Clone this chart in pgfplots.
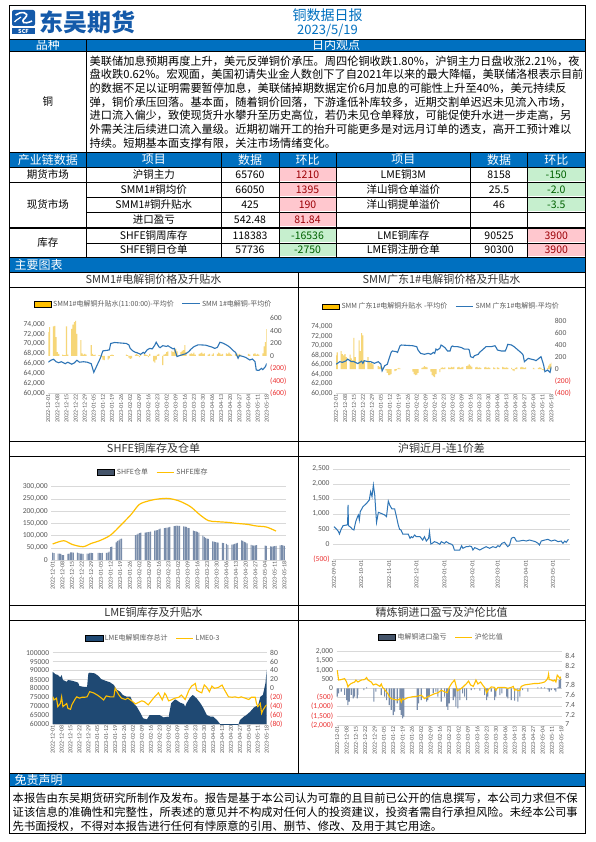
\documentclass[border=0pt]{standalone}
\usepackage{fontspec}
\usepackage{pgfplots}
\pgfplotsset{compat=1.18}
\setmainfont{Noto Sans CJK SC}
\newfontfamily\calfont{Carlito}
\definecolor{hdrblue}{RGB}{0,112,192}
\definecolor{logoblue}{RGB}{20,90,170}
\definecolor{pinkbg}{RGB}{255,199,206}
\definecolor{pinktx}{RGB}{156,0,6}
\definecolor{greenbg}{RGB}{198,239,206}
\definecolor{greentx}{RGB}{0,97,0}
\definecolor{lineblue}{RGB}{46,117,182}
\definecolor{gold}{RGB}{255,192,0}
\definecolor{paleyel}{RGB}{246,214,120}
\definecolor{labgray}{RGB}{89,89,89}
\definecolor{gridgray}{RGB}{217,217,217}
\definecolor{negred}{RGB}{235,50,50}
\definecolor{navy}{RGB}{31,73,115}
\definecolor{slate}{RGB}{120,140,170}
\definecolor{slatedark}{RGB}{68,84,106}
\newcommand\tkf{\calfont\fontsize{7.6}{8}\selectfont}
\newcommand\dkf{\calfont\fontsize{6}{6}\selectfont}
\newcommand\lgf{\fontsize{7}{8}\selectfont\color{labgray}}
\newcommand\bodyf{\fontsize{11.2}{13}\selectfont}
\newcommand\cellf{\fontsize{10.5}{12}\selectfont}
\newcommand\hdrf{\fontsize{12}{13}\selectfont}
\newcommand\ttlf{\fontsize{11}{12}\selectfont}
\newcommand\negl[1]{\textcolor{negred}{#1}}
\pgfplotsset{
  base/.style={scale only axis, enlargelimits=false, scaled ticks=false, tick style={draw=none}, major tick length=0pt,
    tick label style={font=\tkf, text=labgray}, y axis line style={draw=none},
    x axis line style={draw=gridgray}, grid style={draw=gridgray, line width=0.5pt}},
  leftax/.style={axis y line*=left, axis x line*=bottom},
  rightax/.style={axis y line*=right, axis x line=none, xtick=\empty},
  datex/.style={xtick={0,7,...,168}, xticklabels={2022-12-01,2022-12-08,2022-12-15,2022-12-22,2022-12-29,2023-01-05,2023-01-12,2023-01-19,2023-01-26,2023-02-02,2023-02-09,2023-02-16,2023-02-23,2023-03-02,2023-03-09,2023-03-16,2023-03-23,2023-03-30,2023-04-06,2023-04-13,2023-04-20,2023-04-27,2023-05-04,2023-05-11,2023-05-18},
    x tick label style={rotate=90, anchor=east, font=\dkf, inner sep=1pt}},
  leg/.style={legend style={draw=none, fill=none, at={(#1,1)}, anchor=center, yshift=14.4pt,
    legend columns=2, font=\lgf, inner sep=0pt, /tikz/every even column/.append style={column sep=6pt}},
    legend cell align=left},
}
\begin{document}
\begin{tikzpicture}
\useasboundingbox (0,0) rectangle (595pt,-842pt);
\fill[white] (0,0) rectangle (595pt,-842pt);
\begin{scope}[x=1pt,y=-1pt]
% blue bars
\fill[hdrblue] (9,39) rectangle (585,51);
\fill[hdrblue] (9,152) rectangle (585,167);
\fill[hdrblue] (9,258) rectangle (585,272);
\fill[hdrblue] (9,773) rectangle (585,786);
% coloured cells
\fill[pinkbg] (279.5,167.6) rectangle (335.5,181.4);
\fill[pinkbg] (279.5,182.6) rectangle (335.5,196.4);
\fill[pinkbg] (279.5,197.6) rectangle (335.5,211.4);
\fill[pinkbg] (279.5,212.6) rectangle (335.5,226.4);
\fill[greenbg] (528,167.6) rectangle (584.5,181.4);
\fill[greenbg] (528,182.6) rectangle (584.5,196.4);
\fill[greenbg] (528,197.6) rectangle (584.5,211.4);
\fill[greenbg] (279.5,229.1) rectangle (335.5,242.4);
\fill[greenbg] (279.5,243.6) rectangle (335.5,256.4);
\fill[pinkbg] (528,229.1) rectangle (584.5,242.4);
\fill[pinkbg] (528,243.6) rectangle (584.5,256.4);
% logo
\fill[logoblue, rounded corners=2pt] (12,10) rectangle (35,26);
\draw[white, line width=1.6pt] (15.5,15) .. controls (20,11) and (31,12) .. (25,18) .. controls (20,22) and (24,25) .. (32,21);
\draw[white, line width=1.2pt] (14.5,22) .. controls (17,19) and (19,19) .. (21,17);
\fill[logoblue] (12,28) rectangle (35,34);
\node[font=\bfseries\fontsize{5.5}{5.5}\selectfont, text=white, inner sep=0] at (23.5,31) {SCF};
\node[anchor=west, inner sep=0, font=\bfseries\fontsize{24}{24}\selectfont, text=logoblue] at (39,22) {东吴期货};
\node[font=\fontsize{14}{14}\selectfont, text=hdrblue] at (327.5,15) {铜数据日报};
\node[font=\fontsize{13}{13}\selectfont, text=hdrblue] at (327.5,30.7) {2023/5/19};
% header row texts
\node[font=\hdrf, text=white] at (47.75,45) {品种};
\node[font=\hdrf, text=white] at (336,45) {日内观点};
\node[font=\cellf] at (47.75,102) {铜};
\node[anchor=west, inner sep=0, font=\bodyf] at (89.5,61) {美联储加息预期再度上升，美元反弹铜价承压。周四伦铜收跌1.80\%，沪铜主力日盘收涨2.21\%，夜};
\node[anchor=west, inner sep=0, font=\bodyf] at (89.5,74.7) {盘收跌0.62\%。宏观面，美国初请失业金人数创下了自2021年以来的最大降幅，美联储洛根表示目前};
\node[anchor=west, inner sep=0, font=\bodyf] at (89.5,88.4) {的数据不足以证明需要暂停加息，美联储掉期数据定价6月加息的可能性上升至40\%，美元持续反};
\node[anchor=west, inner sep=0, font=\bodyf] at (89.5,102.1) {弹，铜价承压回落。基本面，随着铜价回落，下游逢低补库较多，近期交割单迟迟未见流入市场，};
\node[anchor=west, inner sep=0, font=\bodyf] at (89.5,115.8) {进口流入偏少，致使现货升水攀升至历史高位，若仍未见仓单释放，可能促使升水进一步走高，另};
\node[anchor=west, inner sep=0, font=\bodyf] at (89.5,129.5) {外需关注后续进口流入量级。近期初端开工的抬升可能更多是对远月订单的透支，高开工预计难以};
\node[anchor=west, inner sep=0, font=\bodyf] at (89.5,143.2) {持续。短期基本面支撑有限，关注市场情绪变化。};
% table header
\foreach \x/\t in {47.75/产业链数据,153.75/项目,250/数据,307.5/环比,403.3/项目,499/数据,556.25/环比}
  \node[font=\hdrf, text=white] at (\x,159.5) {\t};
% table rows
\node[font=\cellf] at (47.75,174.5) {期货市场};
\node[font=\cellf] at (47.75,204.5) {现货市场};
\node[font=\cellf] at (47.75,242.5) {库存};
\node[font=\cellf] at (153.75,174.5) {沪铜主力};
\node[font=\cellf] at (250,174.5) {65760};
\node[font=\cellf, text=pinktx] at (307.5,174.5) {1210};
\node[font=\cellf] at (403.3,174.5) {LME铜3M};
\node[font=\cellf] at (499,174.5) {8158};
\node[font=\cellf, text=greentx] at (556.25,174.5) {-150};
\node[font=\cellf] at (153.75,189.5) {SMM1\#铜均价};
\node[font=\cellf] at (250,189.5) {66050};
\node[font=\cellf, text=pinktx] at (307.5,189.5) {1395};
\node[font=\cellf] at (403.3,189.5) {洋山铜仓单溢价};
\node[font=\cellf] at (499,189.5) {25.5};
\node[font=\cellf, text=greentx] at (556.25,189.5) {-2.0};
\node[font=\cellf] at (153.75,204.5) {SMM1\#铜升贴水};
\node[font=\cellf] at (250,204.5) {425};
\node[font=\cellf, text=pinktx] at (307.5,204.5) {190};
\node[font=\cellf] at (403.3,204.5) {洋山铜提单溢价};
\node[font=\cellf] at (499,204.5) {46};
\node[font=\cellf, text=greentx] at (556.25,204.5) {-3.5};
\node[font=\cellf] at (153.75,219.5) {进口盈亏};
\node[font=\cellf] at (250,219.5) {542.48};
\node[font=\cellf, text=pinktx] at (307.5,219.5) {81.84};
\node[font=\cellf] at (153.75,235.5) {SHFE铜周库存};
\node[font=\cellf] at (250,235.5) {118383};
\node[font=\cellf, text=greentx] at (307.5,235.5) {-16536};
\node[font=\cellf] at (403.3,235.5) {LME铜库存};
\node[font=\cellf] at (499,235.5) {90525};
\node[font=\cellf, text=pinktx] at (556.25,235.5) {3900};
\node[font=\cellf] at (153.75,250) {SHFE铜日仓单};
\node[font=\cellf] at (250,250) {57736};
\node[font=\cellf, text=greentx] at (307.5,250) {-2750};
\node[font=\cellf] at (403.3,250) {LME铜注册仓单};
\node[font=\cellf] at (499,250) {90300};
\node[font=\cellf, text=pinktx] at (556.25,250) {3900};
% section labels
\node[anchor=west, font=\hdrf, text=white] at (11,265) {主要图表};
\node[anchor=west, font=\hdrf, text=white] at (11,779.5) {免责声明};
% chart titles
\node[font=\ttlf, text=black!80] at (153.5,279.5) {SMM1\#电解铜价格及升贴水};
\node[font=\ttlf, text=black!80] at (441.5,279.5) {SMM广东1\#电解铜价格及升贴水};
\node[font=\ttlf, text=black!80] at (153.5,448.5) {SHFE铜库存及仓单};
\node[font=\ttlf, text=black!80] at (441.5,448.5) {沪铜近月-连1价差};
\node[font=\ttlf, text=black!80] at (153.5,612.5) {LME铜库存及升贴水};
\node[font=\ttlf, text=black!80] at (441.5,612.5) {精炼铜进口盈亏及沪伦比值};
% disclaimer
\node[anchor=west, inner sep=0, font=\fontsize{11.3}{13}\selectfont] at (12.5,798) {本报告由东吴期货研究所制作及发布。报告是基于本公司认为可靠的且目前已公开的信息撰写，本公司力求但不保};
\node[anchor=west, inner sep=0, font=\fontsize{11.3}{13}\selectfont] at (12.5,812) {证该信息的准确性和完整性，所表述的意见并不构成对任何人的投资建议，投资者需自行承担风险。未经本公司事};
\node[anchor=west, inner sep=0, font=\fontsize{11.3}{13}\selectfont] at (12.5,826) {先书面授权，不得对本报告进行任何有悖原意的引用、删节、修改、及用于其它用途。};
% lines
\begin{scope}[line width=0.6pt]
\draw (9,39)--(585,39) (9,51)--(585,51);
\draw (86.5,39)--(86.5,257.5);
\draw (9,152)--(585,152) (9,167)--(585,167) (9,182)--(585,182);
\draw (86.5,197)--(585,197) (86.5,212)--(585,212);
\draw (9,227)--(585,227) (9,228.5)--(585,228.5) (86.5,243)--(585,243) (9,257.5)--(585,257.5);
\foreach \x in {221,279,336,470.6,527.5} \draw (\x,152)--(\x,257.5);
\draw (9,272)--(585,272) (9,287)--(585,287);
\draw (298,272)--(298,773);
\draw (9,441)--(585,441) (9,456)--(585,456);
\draw (9,605)--(585,605) (9,620)--(585,620);
\draw (9,773)--(585,773) (9,786)--(585,786);
\end{scope}
\draw[line width=1pt] (9,6) rectangle (585,833);
\end{scope}

% ===== Chart 1 =====
\begin{axis}[base, rightax, at={(48.3pt,-393.3pt)}, anchor=south west, width=218.4pt, height=75pt,
  xmin=0, xmax=168, ymin=-600, ymax=600, ytick={-600,-400,-200,0,200,400,600},
  yticklabels={\negl{(600)},\negl{(400)},\negl{(200)},0,200,400,600}]
\addplot[ybar, bar width=1.1pt, fill=paleyel, draw=none] coordinates {(0,380)(1,460)(4,470)(5,480)(6,300)(7,60)(8,30)(11,20)(12,10)(13,10)(14,470)(15,20)(18,430)(19,500)(20,540)(21,560)(22,350)(25,250)(26,40)(27,20)(28,30)(29,20)(33,170)(34,30)(35,10)(36,20)(39,10)(40,5)(41,-20)(42,-60)(43,-70)(46,-60)(47,-40)(48,10)(49,20)(50,10)(60,20)(61,10)(62,-30)(63,-50)(64,-40)(67,20)(68,30)(69,10)(70,-20)(71,20)(74,30)(75,20)(76,10)(77,-20)(78,30)(81,-90)(82,-110)(83,-60)(84,20)(85,30)(88,-150)(89,20)(90,30)(91,60)(92,70)(95,80)(96,60)(97,90)(98,110)(99,70)(102,60)(103,80)(104,90)(105,170)(106,60)(109,30)(110,40)(111,30)(112,50)(113,20)(116,30)(117,40)(118,50)(119,30)(120,40)(123,20)(124,30)(126,20)(127,40)(130,30)(131,50)(132,40)(133,20)(134,30)(137,40)(138,30)(139,50)(140,30)(141,20)(144,30)(145,40)(146,20)(147,30)(148,20)(154,30)(155,20)(158,30)(159,40)(160,20)(161,30)(162,20)(165,40)(166,150)(167,220)(168,425)};
\end{axis}
\begin{axis}[base, leftax, datex, leg=0.482, at={(48.3pt,-393.3pt)}, anchor=south west, width=218.4pt, height=75pt,
  xmin=0, xmax=168, ymin=60000, ymax=75200, ytick={60000,62000,...,74000},
  yticklabels={{60,000},{62,000},{64,000},{66,000},{68,000},{70,000},{72,000},{74,000}}]
\addlegendimage{area legend, fill=gold, draw=none}
\addlegendentry{SMM1\#电解铜升贴水(11:00:00)-平均价}
\addplot[lineblue, line width=1.1pt] coordinates {(0,66300)(2,66700)(4,66900)(6,66400)(8,66200)(10,66400)(13,66000)(15,66300)(18,65900)(20,66150)(22,66700)(24,66300)(27,66400)(30,66300)(33,66000)(35,64250)(37,65400)(40,67100)(42,68600)(45,68700)(47,68800)(48,70100)(51,70300)(60,70100)(62,69800)(63,69100)(65,68600)(67,68300)(68,68250)(71,67900)(73,68300)(74,68100)(76,68800)(78,69100)(80,69000)(82,69800)(83,70350)(85,69450)(86,69250)(88,69650)(91,69500)(92,69650)(94,69300)(96,69000)(97,69100)(99,67450)(101,67650)(103,67800)(106,68050)(108,68450)(110,69000)(112,69450)(115,69800)(118,69800)(121,69750)(123,69600)(126,69350)(128,69100)(130,69300)(132,70350)(134,70200)(136,69950)(138,69650)(140,69250)(142,68700)(144,68300)(146,67100)(147,67650)(150,67450)(152,67250)(155,66750)(157,66950)(159,66400)(160,64700)(162,64650)(164,65050)(165,64800)(167,65400)(168,66050)};
\addlegendentry{SMM 1\#电解铜-平均价}
\end{axis}

% ===== Chart 2 =====
\begin{axis}[base, rightax, at={(336pt,-393.3pt)}, anchor=south west, width=215.3pt, height=72.3pt,
  xmin=0, xmax=168, ymin=-400, ymax=800, ytick={-400,-200,0,200,400,600,800},
  yticklabels={\negl{(400)},\negl{(200)},0,200,400,600,800}]
\addplot[ybar, bar width=1.1pt, fill=paleyel, draw=none] coordinates {(0,230)(1,280)(4,300)(5,250)(6,230)(7,250)(8,200)(11,240)(12,180)(13,150)(14,520)(15,200)(18,480)(19,300)(20,600)(21,560)(22,150)(25,200)(26,120)(27,100)(28,120)(29,80)(33,50)(34,40)(35,60)(36,30)(39,-20)(40,-60)(41,-100)(42,-100)(43,-80)(46,-30)(47,-20)(48,10)(49,20)(50,10)(60,-40)(61,-80)(62,-100)(63,-90)(64,-60)(67,20)(68,30)(69,50)(70,40)(71,30)(74,-40)(75,-100)(76,-120)(77,-130)(78,-80)(81,-50)(82,20)(83,30)(84,20)(85,30)(88,30)(89,20)(90,40)(91,30)(92,40)(95,30)(96,40)(97,20)(98,30)(99,40)(102,50)(103,60)(104,80)(105,60)(106,40)(109,30)(110,40)(111,20)(112,30)(113,20)(116,30)(117,40)(118,20)(119,30)(120,20)(123,30)(124,20)(126,30)(127,20)(130,40)(131,30)(132,20)(133,30)(134,20)(137,20)(138,-20)(139,-30)(140,20)(141,30)(144,30)(145,40)(146,30)(147,20)(148,30)(154,20)(155,10)(158,20)(159,30)(160,20)(161,-10)(162,-20)(165,20)(166,60)(167,90)(168,110)};
\end{axis}
\begin{axis}[base, leftax, datex, leg=0.49, at={(336pt,-393.3pt)}, anchor=south west, width=215.3pt, height=72.3pt,
  xmin=0, xmax=168, ymin=60000, ymax=75200, ytick={60000,62000,...,74000},
  yticklabels={{60,000},{62,000},{64,000},{66,000},{68,000},{70,000},{72,000},{74,000}}]
\addlegendimage{area legend, fill=gold, draw=none}
\addlegendentry{SMM 广东1\#电解铜升贴水 -平均价}
\addplot[lineblue, line width=1.1pt] coordinates {(0,66100)(3,66650)(5,66500)(8,66850)(9,67200)(12,66650)(14,66650)(17,66250)(20,66750)(21,66300)(22,66850)(25,66650)(27,66650)(30,66300)(33,66650)(35,66150)(36,64700)(38,65800)(40,66100)(43,68600)(44,68900)(47,68750)(48,68600)(50,70000)(51,70150)(60,70000)(63,69800)(64,69100)(66,68400)(69,68200)(72,68400)(74,68200)(76,68600)(77,68400)(78,69300)(79,69100)(81,69450)(82,70150)(83,70000)(85,69600)(87,68900)(89,68900)(90,69800)(91,69950)(92,69800)(95,69800)(98,69600)(100,69300)(103,69300)(104,69100)(105,67700)(107,67500)(108,67900)(111,68200)(112,68600)(115,69300)(117,69800)(121,69800)(124,70000)(125,69600)(126,69100)(129,68900)(132,68900)(133,69450)(134,70300)(137,70150)(139,69800)(142,69100)(145,68400)(146,68050)(147,66650)(150,67350)(152,67200)(155,67000)(156,66850)(159,67500)(160,67700)(162,65950)(163,64550)(164,64700)(165,64900)(167,64400)(168,65600)};
\addlegendentry{SMM 广东1\#电解铜-平均价}
\end{axis}

% ===== Chart 3 =====
\begin{axis}[base, leftax, datex, leg=0.436, ymajorgrids, at={(51.3pt,-560pt)}, anchor=south west, width=234.4pt, height=73.3pt,
  xmin=-1, xmax=169, ymin=0, ymax=300000, ytick={0,50000,...,300000},
  yticklabels={0,{50,000},{100,000},{150,000},{200,000},{250,000},{300,000}}]
\addlegendimage{area legend, fill=slatedark, draw=none}
\addlegendentry{SHFE仓单}
\addplot[ybar, bar width=1.0pt, fill=slate, draw=none, forget plot] coordinates {(0,30000)(1,28000)(4,26000)(5,26000)(6,25000)(7,20000)(8,20000)(11,25000)(12,26000)(13,31000)(14,31000)(15,30000)(18,30000)(19,28000)(20,26000)(21,26000)(22,25000)(25,26000)(26,26000)(27,29000)(28,29000)(29,28000)(33,29000)(34,29000)(35,28000)(36,29000)(39,29000)(40,30000)(41,34000)(42,53000)(43,55000)(46,72000)(47,78000)(48,80000)(49,86000)(50,88000)(60,102000)(61,104000)(62,108000)(63,110000)(64,112000)(67,112000)(68,113000)(69,114000)(70,115000)(71,116000)(74,120000)(75,121000)(76,122000)(77,125000)(78,128000)(81,130000)(82,132000)(83,133000)(84,134000)(85,136000)(88,139000)(89,140000)(90,141000)(91,140000)(92,140000)(95,138000)(96,137000)(97,136000)(98,132000)(99,130000)(102,120000)(103,118000)(104,117000)(105,115000)(106,112000)(109,100000)(110,95000)(111,91000)(112,88000)(113,86000)(116,76000)(117,75000)(118,73000)(119,72000)(120,71000)(123,70000)(124,69000)(126,66000)(127,62000)(130,63000)(131,64000)(132,66000)(133,68000)(134,70000)(137,80000)(138,78000)(139,74000)(140,72000)(141,68000)(144,62000)(145,60000)(146,59000)(147,60000)(148,61000)(154,59000)(155,58000)(158,56000)(159,55000)(160,56000)(161,57000)(162,58000)(165,60000)(166,61000)(167,60000)(168,57736)};
\addplot[gold, line width=1.2pt, smooth, tension=0.5] coordinates {(0,65500)(8,79000)(14,64000)(22,54500)(28,68000)(34,79000)(42,102000)(50,146000)(57,187000)(63,228000)(71,244000)(77,250000)(84,252000)(92,241000)(100,218000)(107,184000)(113,161000)(119,157000)(127,154000)(133,150000)(141,146000)(148,139000)(155,135000)(162,118383)};
\addlegendentry{SHFE库存}
\end{axis}

% ===== Chart 4 =====
\begin{axis}[base, leftax, ymajorgrids, at={(333.1pt,-559pt)}, anchor=south west, width=237.1pt, height=90pt,
  xmin=-1, xmax=261, ymin=-500, ymax=2500, ytick={-500,0,...,2500},
  yticklabels={\negl{(500)},0,500,{1,000},{1,500},{2,000},{2,500}},
  xtick={0,30,61,91,122,153,181,212,242},
  xticklabels={2022-09-01,2022-10-01,2022-11-01,2022-12-01,2023-01-01,2023-02-01,2023-03-01,2023-04-01,2023-05-01},
  x tick label style={rotate=90, anchor=east, font=\dkf, inner sep=1pt}]
\addplot[lineblue, line width=1pt] coordinates {(0,578)(3,489)(5,411)(6,333)(8,500)(10,611)(14,633)(15,655)(15.5,1300)(16,611)(19,544)(20,500)(22,467)(24,744)(26,911)(27,967)(28,800)(29,1078)(32,1244)(36,1356)(39,1467)(40.5,1744)(42,1578)(43.5,1967)(45,1633)(47,722)(49,1055)(52,1022)(56,967)(58,911)(60,1433)(61.5,1300)(64,1167)(67,1167)(69,911)(71,633)(72.5,489)(74,467)(76,333)(80,333)(82,333)(84,189)(85.5,244)(87,211)(89,300)(91,244)(95,244)(96.5,189)(98,133)(100,244)(102,100)(104.5,189)(105.5,411)(107,0)(108.5,22)(111,78)(114,44)(117,-11)(118.5,78)(122,22)(124,78)(127,22)(130,-11)(131.5,-56)(133,-200)(136,-200)(139,-200)(141,-56)(142.5,-144)(146,-89)(148,-89)(150,-67)(152,-89)(153.5,-200)(155.5,-122)(159,-167)(161,-200)(164.5,-144)(168,-89)(172,-144)(175.5,-89)(179,-122)(181,-56)(183,-89)(185.5,22)(188.5,56)(190.5,-33)(192,-89)(194,-33)(196,189)(198,222)(199.5,211)(201.5,100)(205,100)(209,122)(212.5,100)(216,133)(220,100)(222.5,78)(225.5,22)(227,-33)(229,100)(233,133)(236.5,156)(240,100)(244,133)(247.5,78)(251,100)(253,22)(255,100)(256.5,56)(259,156)};
\end{axis}

% ===== Chart 5 =====
\begin{axis}[base, leftax, datex, ymajorgrids, at={(52.7pt,-724pt)}, anchor=south west, width=214pt, height=71.3pt,
  xmin=0, xmax=168, ymin=60000, ymax=100000, ytick={60000,65000,...,100000},
  yticklabels={60000,65000,70000,75000,80000,85000,90000,95000,100000}]
\addplot[fill=navy, draw=none] coordinates {(0,89300)(2,88000)(4,87500)(6,86200)(7,87500)(8,84700)(11,83700)(12,84700)(15,84300)(18,83700)(20,83200)(21,81300)(24,80900)(27,80900)(28,88400)(29,88800)(33,88400)(36,86900)(38,85200)(42,84100)(45,83400)(48,81900)(50,79400)(53,78100)(55,76300)(58,75300)(61,75300)(63,72000)(66,69700)(69,66000)(71,63200)(74,62600)(76,65000)(79,65000)(82,65000)(84,65000)(87,63700)(90,64100)(91,63700)(92,67900)(93,71600)(96,73800)(97,73500)(100,72000)(103,71200)(104,69700)(105,71600)(108,75000)(110,76300)(113,74400)(116,71600)(118,69300)(121,65000)(124,64100)(126,64100)(129,62200)(131,60400)(133,57000)(139,53000)(145,58000)(147,62200)(150,64100)(152,65000)(155,66900)(158,69300)(160,70100)(161,69700)(163,75300)(165,76300)(167,82800)(168,90525)} \closedcycle;
\end{axis}
\begin{axis}[base, rightax, leg=0.471, at={(52.7pt,-724pt)}, anchor=south west, width=214pt, height=71.3pt,
  xmin=0, xmax=168, ymin=-80, ymax=80, ytick={-80,-60,...,80},
  yticklabels={\negl{(80)},\negl{(60)},\negl{(40)},\negl{(20)},0,20,40,60,80}]
\addlegendimage{area legend, fill=navy, draw=none}
\addlegendentry{LME电解铜库存总计}
\addplot[gold, line width=1.1pt] coordinates {(0,-18.7)(1,-26)(3,-22)(4,-41)(6,-34)(7,-19)(8,-41)(11,-34)(12,-45)(14,-47)(15,-37)(18,-22)(19,-19)(21,-22)(23,-20)(25,-20)(27,-19)(29,-7.5)(32,-10)(35,-15)(37,-19)(40,-26)(42,-17)(45,-19)(48,-19)(49,0)(52,-15)(54,-22)(57,-25)(59,-22)(62,-28)(65,-35)(67,-32)(70,-28)(72,-30)(75,-37)(78,-26)(80,-19)(83,-10)(86,-26)(88,-11)(89,-15)(91,-28)(93,-26)(96,-22)(99,-20)(101,-15)(104,-25)(107,-4)(109,5)(112,11)(113,-4)(115,-7.5)(117,-10)(119,7.5)(121,2)(123,-7.5)(125,5)(127,0)(130,2)(133,7.5)(135,-4)(138,-19)(141,-20)(143,-19)(146,-21)(148,-19)(151,-22)(154,-25)(156,-20)(159,-20)(160,-34)(161,-41)(163,-34)(164,-56)(165,-49)(167,-40)(168,-37)};
\addlegendentry{LME0-3}
\end{axis}

% ===== Chart 6 =====
\begin{axis}[base, leftax, datex, ymajorgrids, at={(336.6pt,-725pt)}, anchor=south west, width=225.3pt, height=73.3pt,
  xmin=-0.5, xmax=168.5, ymin=-2000, ymax=2000, ytick={-2000,-1500,...,2000},
  yticklabels={\negl{(2,000)},\negl{(1,500)},\negl{(1,000)},\negl{(500)},0,500,{1,000},{1,500},{2,000}}]
\addplot[ybar, bar width=1.1pt, fill=slate, draw=none] coordinates {(0,-455)(1,-270)(3,-180)(5.5,-360)(7,-636)(8,-909)(9,-727)(10.5,-360)(12,-545)(13,-450)(15,-545)(15.5,-360)(20,-90)(22,55)(27.5,-727)(29,-180)(33,-364)(35.5,-455)(37,-636)(39,-909)(40.5,-1180)(42,-1454)(43,-1270)(45,-818)(47,-1180)(48,-1454)(49,-1636)(50,-1545)(60,-1180)(61,-818)(63,-636)(67,-727)(68,-636)(69,-455)(72,-270)(74,-180)(75.5,-455)(78,-727)(80.5,-455)(82,-1000)(83,-1180)(84,-818)(87,-636)(88,-455)(89,-1000)(90.5,-1090)(92,-636)(94,-270)(95.5,-455)(97,-636)(100.5,-90)(103,-55)(107,-130)(110.5,-364)(112,-636)(113,-455)(115.5,-180)(118,-636)(119,-455)(122,-364)(123.5,-270)(127,-455)(128,-545)(130.5,-636)(133,-670)(135.5,-727)(137,-455)(139,-90)(143,-182)(150.5,55)(153,55)(155.5,55)(158,-55)(159,-182)(160.5,-90)(163,-90)(164,-182)(165.5,55)(166.5,455)(167.5,542.48)};
\end{axis}
\begin{axis}[base, rightax, leg=0.466, at={(336.6pt,-725pt)}, anchor=south west, width=225.3pt, height=73.3pt,
  xmin=-0.5, xmax=168.5, ymin=6.99, ymax=8.49, ytick={7,7.2,7.4,7.6,7.8,8,8.2,8.4},
  yticklabels={7,7.2,7.4,7.6,7.8,8,8.2,8.4}]
\addlegendimage{area legend, fill=slatedark, draw=none}
\addlegendentry{电解铜进口盈亏}
\addplot[gold, line width=1.1pt] coordinates {(0,8.11)(1,7.91)(3,7.92)(5.5,7.94)(7,7.87)(8,7.77)(9,7.81)(10.5,7.84)(13,7.87)(14,7.91)(15.5,7.87)(18,7.91)(20.5,7.92)(22,7.96)(23,7.91)(25.5,7.87)(27,7.81)(29,7.83)(32,7.78)(33,7.83)(34,7.76)(36,7.70)(38,7.63)(39,7.57)(40.5,7.53)(43,7.51)(45.5,7.50)(47,7.53)(48,7.46)(49,7.53)(50,7.51)(53,7.55)(57,7.57)(60.5,7.58)(63,7.60)(65.5,7.53)(68,7.57)(70.5,7.60)(73,7.63)(75.5,7.65)(78,7.70)(79,7.69)(80.5,7.67)(82.5,7.65)(84,7.76)(86,7.85)(88,7.91)(90,7.69)(92,7.72)(94,7.76)(97,7.84)(98.5,7.89)(100,7.81)(102,7.78)(103,7.84)(104,7.91)(105.5,7.83)(107.5,7.87)(109,7.81)(111,7.74)(112,7.65)(113.5,7.72)(115.5,7.77)(118,7.76)(119,7.70)(120.5,7.76)(123,7.76)(125.5,7.76)(128,7.74)(130.5,7.76)(132,7.78)(133,7.70)(134,7.72)(135.5,7.69)(137,7.70)(138,7.78)(140.5,7.81)(143,7.82)(145.5,7.83)(148,7.84)(150.5,7.84)(153,7.85)(155.5,7.87)(157,7.91)(158,7.96)(158.5,8.03)(159,7.92)(160.5,7.91)(162,7.89)(163,7.91)(164,7.87)(165,8.01)(166,7.98)(167,7.94)(167.5,7.98)};
\addlegendentry{沪伦比值}
\end{axis}
\end{tikzpicture}
\end{document}
